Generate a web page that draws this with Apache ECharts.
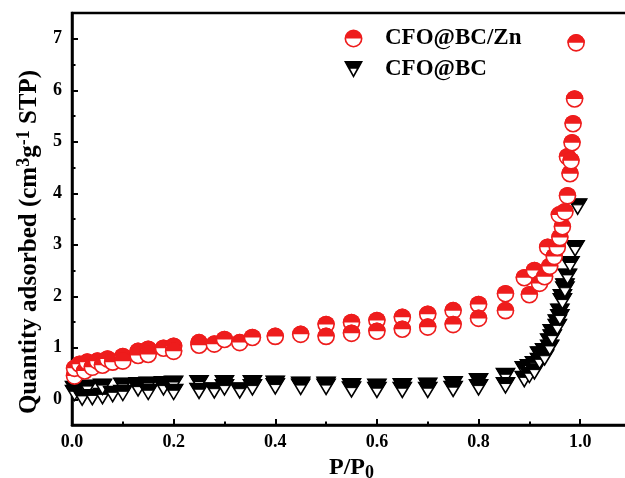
<!DOCTYPE html>
<html>
<head>
<meta charset="utf-8">
<script src="https://cdn.jsdelivr.net/npm/echarts@6/dist/echarts.min.js"></script>
<style>
  html, body { margin: 0; padding: 0; background: #fff; }
  #chart { width: 625px; height: 478px; }
</style>
</head>
<body>
<div id="chart"></div>
<script>
// CFO@BC/Zn (red half-filled circles) : [P/P0, quantity]
const znPoints = [
  [0.005, 0.45], [0.005, 0.6], [0.015, 0.68], [0.025, 0.55], [0.03, 0.72], [0.04, 0.62],
  [0.05, 0.74], [0.06, 0.66], [0.07, 0.78], [0.08, 0.72], [0.1, 0.83], [0.1, 0.74],
  [0.13, 0.93], [0.13, 0.85], [0.15, 0.97], [0.15, 0.87], [0.18, 0.99], [0.2, 1.03],
  [0.2, 0.93], [0.25, 1.1], [0.25, 1.05], [0.28, 1.07], [0.3, 1.16], [0.33, 1.1],
  [0.355, 1.2], [0.4, 1.22], [0.45, 1.26], [0.5, 1.45], [0.5, 1.22], [0.55, 1.49],
  [0.55, 1.28], [0.6, 1.53], [0.6, 1.32], [0.65, 1.59], [0.65, 1.36], [0.7, 1.65],
  [0.7, 1.4], [0.75, 1.72], [0.75, 1.45], [0.8, 1.84], [0.8, 1.57], [0.853, 2.05],
  [0.853, 1.72], [0.89, 2.36], [0.9, 2.03], [0.91, 2.5], [0.92, 2.25], [0.93, 2.38],
  [0.94, 2.58], [0.936, 2.95], [0.949, 2.77], [0.955, 2.95], [0.96, 3.14], [0.965, 3.35],
  [0.959, 3.58], [0.97, 3.64], [0.975, 3.95], [0.98, 4.38], [0.975, 4.71], [0.982, 4.63],
  [0.984, 4.98], [0.986, 5.35], [0.989, 5.83], [0.992, 6.92]
];
// CFO@BC (black half-filled down triangles)
const bcPoints = [
  [0.005, 0.2], [0.005, 0.12], [0.02, 0.03], [0.03, 0.22], [0.04, 0.04], [0.06, 0.06],
  [0.06, 0.24], [0.08, 0.1], [0.1, 0.26], [0.1, 0.12], [0.13, 0.27], [0.13, 0.21],
  [0.15, 0.28], [0.15, 0.14], [0.18, 0.29], [0.18, 0.23], [0.2, 0.3], [0.2, 0.14],
  [0.25, 0.31], [0.25, 0.16], [0.28, 0.17], [0.3, 0.31], [0.3, 0.23], [0.33, 0.17],
  [0.355, 0.31], [0.355, 0.23], [0.4, 0.3], [0.4, 0.25], [0.45, 0.28], [0.45, 0.24],
  [0.5, 0.28], [0.5, 0.24], [0.55, 0.25], [0.55, 0.19], [0.6, 0.24], [0.6, 0.18],
  [0.65, 0.25], [0.65, 0.18], [0.7, 0.26], [0.7, 0.18], [0.75, 0.29], [0.75, 0.2],
  [0.8, 0.35], [0.8, 0.23], [0.853, 0.45], [0.853, 0.27], [0.89, 0.58], [0.89, 0.39],
  [0.9, 0.62], [0.9, 0.47], [0.91, 0.68], [0.91, 0.54], [0.92, 0.87], [0.92, 0.74],
  [0.93, 0.93], [0.93, 0.81], [0.94, 1.12], [0.94, 1.0], [0.945, 1.3], [0.945, 1.2],
  [0.955, 1.49], [0.955, 1.4], [0.96, 1.7], [0.96, 1.59], [0.965, 1.98], [0.965, 1.9],
  [0.97, 2.19], [0.97, 2.13], [0.975, 2.38], [0.98, 2.62], [0.99, 2.93], [0.995, 3.74]
];
const yTicks = [0, 1, 2, 3, 4, 5, 6, 7];
const yMinorTicks = [0.5, 1.5, 2.5, 3.5, 4.5, 5.5, 6.5];

const RED = '#ee1c1c';
const FONT = '"Liberation Serif", "Times New Roman", serif';

const circleIcon = 'path://M0,10 A10,10 0 0,1 20,10 Z M0,10 A10,10 0 0,0 20,10 L18.2,10 A8.2,8.2 0 0,1 1.8,10 Z';
const triIcon = 'path://M0,0 L20,0 L16.4,6.5 L3.6,6.5 Z M3.6,6.5 L16.4,6.5 L10,18 Z M6.6,8.1 L10,14.4 L13.4,8.1 Z';

// half filled circle
function renderCircle(params, api) {
  const p = api.coord([api.value(0), api.value(1)]);
  const r = 8;
  return {
    type: 'group',
    children: [
      { type: 'circle', shape: { cx: p[0], cy: p[1], r: r }, style: { fill: '#fff', stroke: RED, lineWidth: 1.6 } },
      { type: 'sector', shape: { cx: p[0], cy: p[1], r0: 0, r: r + 0.8, startAngle: Math.PI, endAngle: Math.PI * 2 }, style: { fill: RED } }
    ]
  };
}

// down triangle, top part filled
function renderTri(params, api) {
  const p = api.coord([api.value(0), api.value(1)]);
  const w = 9, h = 15;
  const top = p[1] - h / 2, bot = p[1] + h / 2;
  const k = 0.38;
  const mid = top + h * k;
  return {
    type: 'group',
    children: [
      { type: 'polygon', shape: { points: [[p[0] - w, top], [p[0] + w, top], [p[0], bot]] }, style: { fill: '#fff', stroke: '#000', lineWidth: 1.6 } },
      { type: 'polygon', shape: { points: [[p[0] - w, top], [p[0] + w, top], [p[0] + w * (1 - k), mid], [p[0] - w * (1 - k), mid]] }, style: { fill: '#000', stroke: '#000', lineWidth: 1 } }
    ]
  };
}

const chart = echarts.init(document.getElementById('chart'));

chart.setOption({
  backgroundColor: '#fff',
  animation: false,
  textStyle: { fontFamily: FONT },
  grid: {
    left: 72, top: 13, right: -6, bottom: 53,
    containLabel: false,
    outerBoundsMode: 'none',
    show: true, borderColor: '#000', borderWidth: 2.5
  },
  legend: {
    orient: 'vertical',
    left: 339, top: 22,
    itemWidth: 19, itemHeight: 18, itemGap: 8,
    data: [
      { name: 'CFO@BC/Zn', icon: circleIcon },
      { name: 'CFO@BC', icon: triIcon }
    ],
    textStyle: { fontFamily: FONT, fontSize: 23, fontWeight: 'bold', color: '#000', padding: [0, 0, 0, 17] }
  },
  xAxis: {
    type: 'value',
    min: 0, max: 1.1, interval: 0.2,
    name: 'P/P{sub|0}',
    nameLocation: 'middle',
    nameGap: 29,
    nameTextStyle: {
      fontFamily: FONT, fontSize: 24, fontWeight: 'bold', color: '#000',
      rich: { sub: { fontFamily: FONT, fontSize: 18, fontWeight: 'bold', verticalAlign: 'bottom', padding: [10, 0, 0, 0] } }
    },
    axisLine: { onZero: false, lineStyle: { color: '#000', width: 2.5 } },
    axisTick: { inside: true, length: 6, lineStyle: { color: '#000', width: 2 } },
    minorTick: { show: true, splitNumber: 2, length: 3.5, lineStyle: { color: '#000', width: 2 } },
    splitLine: { show: false },
    axisLabel: {
      showMaxLabel: false,
      fontFamily: FONT, fontSize: 18, fontWeight: 'bold', color: '#000', margin: 8,
      formatter: v => (v > 1.05 ? '' : v.toFixed(1))
    }
  },
  yAxis: [
    {
      type: 'value',
      min: -0.5, max: 7.5,
      position: 'left',
      name: 'Quantity adsorbed (cm{sup|3}g{sup|-1} STP)',
      nameLocation: 'middle',
      nameRotate: 90,
      nameGap: 27,
      nameTextStyle: {
        fontFamily: FONT, fontSize: 25, fontWeight: 'bold', color: '#000', padding: [0, 46, 0, 0],
        rich: { sup: { fontFamily: FONT, fontSize: 18, fontWeight: 'bold', verticalAlign: 'top', padding: [0, 0, 10, 0] } }
      },
      axisLine: { show: true, onZero: false, lineStyle: { color: '#000', width: 2.5 } },
      axisTick: { inside: true, length: 6, customValues: yTicks, lineStyle: { color: '#000', width: 2 } },
      splitLine: { show: false },
      axisLabel: {
        customValues: yTicks,
        fontFamily: FONT, fontSize: 18, fontWeight: 'bold', color: '#000', margin: 10
      }
    },
    {
      type: 'value',
      min: -0.5, max: 7.5,
      position: 'left',
      axisLine: { show: false },
      axisTick: { show: true, inside: true, length: 3.5, customValues: yMinorTicks, lineStyle: { color: '#000', width: 2 } },
      axisLabel: { show: false },
      splitLine: { show: false }
    }
  ],
  series: [
    {
      name: 'CFO@BC/Zn',
      type: 'custom',
      renderItem: renderCircle,
      itemStyle: { color: RED },
      encode: { x: 0, y: 1 },
      data: znPoints,
      z: 3
    },
    {
      name: 'CFO@BC',
      type: 'custom',
      renderItem: renderTri,
      itemStyle: { color: '#000' },
      encode: { x: 0, y: 1 },
      data: bcPoints,
      z: 2
    }
  ]
});
</script>
</body>
</html>
